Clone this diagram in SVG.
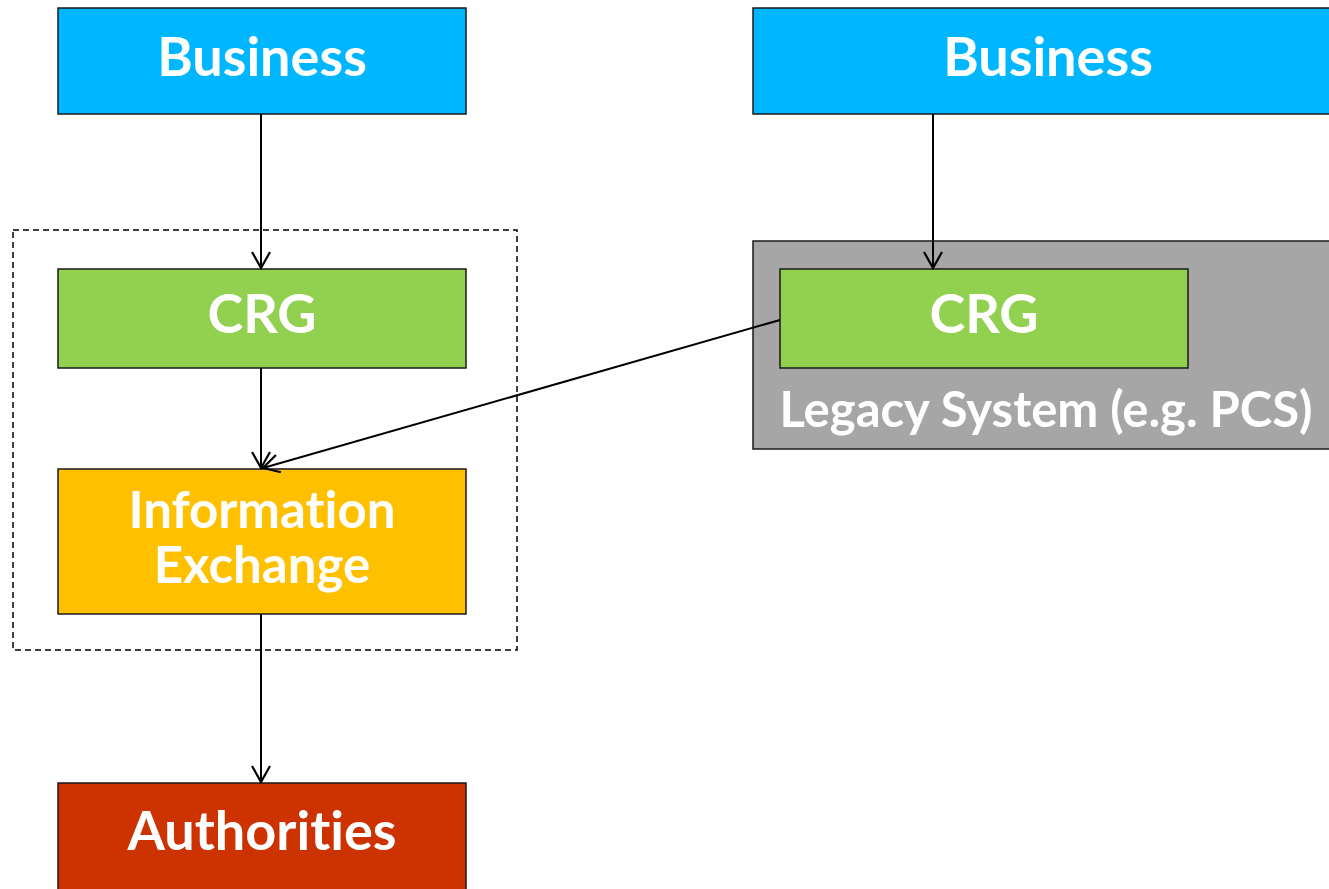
<svg xmlns="http://www.w3.org/2000/svg" width="1329" height="889" viewBox="0 0 1329 889">
<style>
.box{stroke:#1a1a1a;stroke-width:1.5}
.t{font-family:Lato,"Open Sans","Liberation Sans",sans-serif;font-weight:bold;fill:#fff;text-anchor:middle;font-size:54px;font-variant-ligatures:none}
.s{font-size:49px}
.m{font-size:51px}
.c{stroke:#000;stroke-width:2;fill:none}
</style>
<defs>
<marker id="arr" viewBox="0 0 20 20" refX="18" refY="10" markerWidth="20" markerHeight="20" markerUnits="userSpaceOnUse" orient="auto">
<path d="M2,1 L18,10 L2,19" fill="none" stroke="#000" stroke-width="2.2"/>
</marker>
</defs>
<rect width="1329" height="889" fill="#fff"/>
<g id="group-left">
<rect x="13" y="230" width="504" height="420" fill="none" stroke="#000" stroke-width="1.5" stroke-dasharray="6,4"/>
</g>
<g id="legacy">
<rect class="box" x="753" y="241" width="580" height="208" fill="#A6A6A6"/>
<text class="t s" x="1046" y="427">Legacy System (e.g. PCS)</text>
</g>
<g id="business-left">
<rect class="box" x="58" y="8" width="408" height="106" fill="#00B7FF"/>
<text class="t" x="262" y="76">Business</text>
</g>
<g id="business-right">
<rect class="box" x="753" y="8" width="580" height="106" fill="#00B7FF"/>
<text class="t" x="1048" y="76">Business</text>
</g>
<g id="crg-left">
<rect class="box" x="58" y="269" width="408" height="99" fill="#92D050"/>
<text class="t" x="262" y="333">CRG</text>
</g>
<g id="crg-right">
<rect class="box" x="780" y="269" width="408" height="99" fill="#92D050"/>
<text class="t" x="984" y="333">CRG</text>
</g>
<g id="info-exchange">
<rect class="box" x="58" y="469" width="408" height="145" fill="#FFC000"/>
<text class="t m" x="262" y="528">Information</text>
<text class="t m" x="262" y="583">Exchange</text>
</g>
<g id="authorities">
<rect class="box" x="58" y="783" width="408" height="110" fill="#CC3300"/>
<text class="t" x="262" y="850">Authorities</text>
</g>
<g id="connectors">
<line class="c" x1="261" y1="114" x2="261" y2="268" marker-end="url(#arr)"/>
<line class="c" x1="261" y1="368" x2="261" y2="468" marker-end="url(#arr)"/>
<line class="c" x1="261" y1="614" x2="261" y2="782" marker-end="url(#arr)"/>
<line class="c" x1="933" y1="114" x2="933" y2="268" marker-end="url(#arr)"/>
<line class="c" x1="780" y1="320" x2="263" y2="468" marker-end="url(#arr)"/>
</g>
</svg>
